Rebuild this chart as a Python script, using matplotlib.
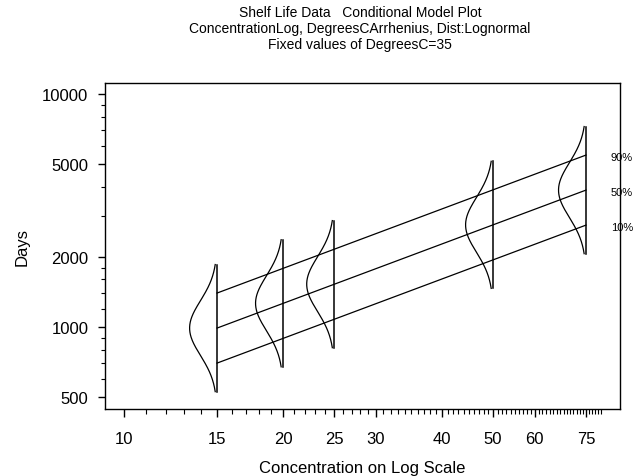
import numpy as np
import matplotlib
matplotlib.use("Agg")
import matplotlib.pyplot as plt
from matplotlib.ticker import FixedLocator, NullFormatter

plt.rcParams['font.family'] = ['Liberation Sans', 'DejaVu Sans']

# datos
conc = [15, 20, 25, 50, 75]
median_days = [990, 1265, 1528, 2745, 3870]
sigma_ln = 0.27
quant_labels = ['10%', '50%', '90%']
quant_z = [-1.2816, 0.0, 1.2816]

x_major = [10, 15, 20, 25, 30, 40, 50, 60, 75]
x_minor = [v for v in range(11, 81) if v not in x_major]
y_major = [500, 1000, 2000, 5000, 10000]
y_minor = [600, 700, 800, 900, 1200, 1400, 1600, 1800, 3000, 4000,
           6000, 7000, 8000, 9000]

fig = plt.figure(figsize=(6.33, 4.77), dpi=100)
ax = fig.add_axes([105 / 633, 67 / 477, 515 / 633, 326 / 477])
ax.set_xscale('log')
ax.set_yscale('log')

# lineas de cuantiles entre la primera y la ultima concentracion
for lab, z in zip(quant_labels, quant_z):
    ends = [median_days[0] * np.exp(z * sigma_ln), median_days[-1] * np.exp(z * sigma_ln)]
    ax.plot([conc[0], conc[-1]], ends, color='black', lw=0.9)
    ax.text(83.6, ends[1] * 0.985, lab, fontsize=8, ha='left', va='center', clip_on=False)

# densidades lognormales en cada nivel
zz = np.linspace(-2.326, 2.326, 200)
for c, m in zip(conc, median_days):
    yy = m * np.exp(zz * sigma_ln)
    xx = c * 10 ** (-0.052 * np.exp(-zz ** 2 / 2))
    ax.plot(xx, yy, color='black', lw=0.9)
    ax.plot([c, c], [yy[0], yy[-1]], color='black', lw=1.1)

ax.set_xlim(9.2, 87.0)
ax.set_ylim(445, 11150)

ax.xaxis.set_major_locator(FixedLocator(x_major))
ax.xaxis.set_minor_locator(FixedLocator(x_minor))
ax.set_xticklabels([str(v) for v in x_major])
ax.xaxis.set_minor_formatter(NullFormatter())
ax.yaxis.set_major_locator(FixedLocator(y_major))
ax.yaxis.set_minor_locator(FixedLocator(y_minor))
ax.set_yticklabels([str(v) for v in y_major])
ax.yaxis.set_minor_formatter(NullFormatter())

ax.tick_params(axis='x', which='major', length=6, width=1, pad=10, labelsize=12)
ax.tick_params(axis='x', which='minor', length=3.5, width=0.8)
ax.tick_params(axis='y', which='major', length=5, width=1, pad=7, labelsize=12)
ax.tick_params(axis='y', which='minor', length=3, width=0.8)

for s in ax.spines.values():
    s.set_linewidth(1)

ax.set_xlabel('Concentration on Log Scale', fontsize=12, labelpad=10)
ax.set_ylabel('Days', fontsize=12, labelpad=9)

fig.text(360 / 633, 1 - 13 / 477, 'Shelf Life Data   Conditional Model Plot',
         ha='center', va='center', fontsize=10)
fig.text(360 / 633, 1 - 29 / 477, 'ConcentrationLog, DegreesCArrhenius, Dist:Lognormal',
         ha='center', va='center', fontsize=10)
fig.text(360 / 633, 1 - 45 / 477, 'Fixed values of DegreesC=35',
         ha='center', va='center', fontsize=10)

fig.savefig('out.png', dpi=100)
